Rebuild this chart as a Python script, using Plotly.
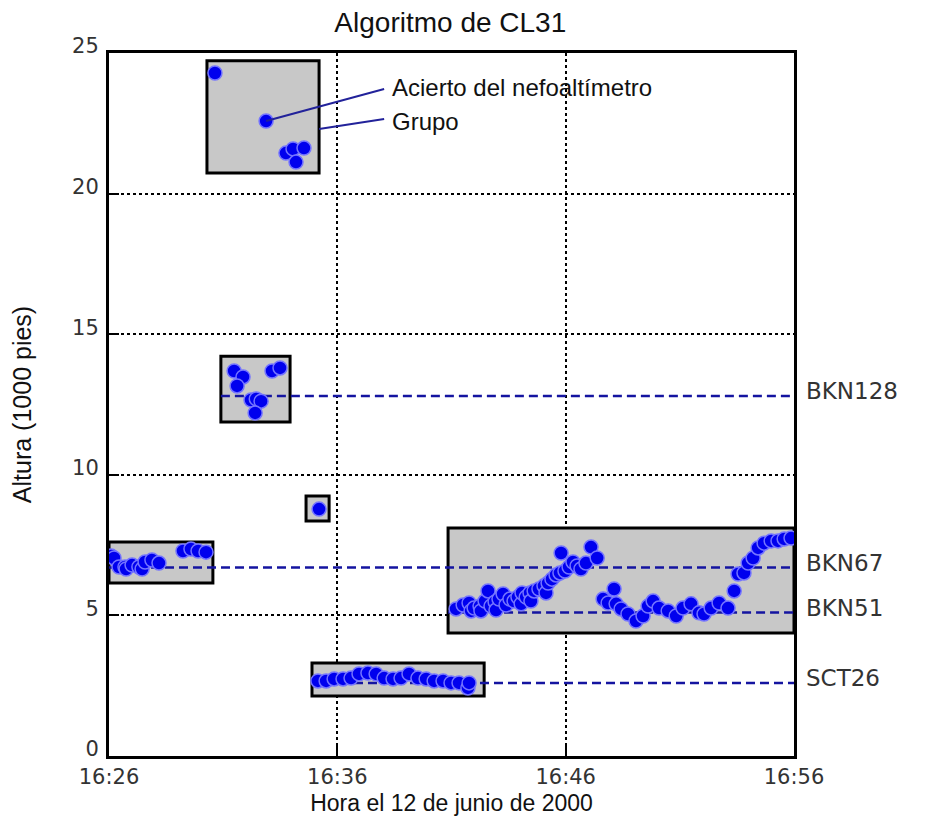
import pandas as pd
import plotly.graph_objects as go

# ---------------- data (minutes after 16:26, heights in 1000 ft) ----------------
BASE = pd.Timestamp("2000-06-12 16:26:00")

# cluster at ~21-24 kft
t_alto = [4.64, 6.88, 7.75, 8.06, 8.54, 8.19]
h_alto = [24.29, 22.58, 21.44, 21.59, 21.62, 21.12]

# cluster at ~12-14 kft
t_medio = [5.48, 5.87, 5.61, 6.22, 6.45, 6.66, 6.40, 7.14, 7.49]
h_medio = [13.69, 13.48, 13.16, 12.66, 12.70, 12.62, 12.20, 13.69, 13.80]

# single hit at ~8.8 kft
t_aislado = [9.20]
h_aislado = [8.78]

# cluster at ~7 kft (left)
t_izq = [0.09, 0.22, 0.44, 0.70, 0.75, 1.01, 1.31, 1.45, 1.58, 1.88, 2.19, 3.24, 3.59, 3.90, 4.25]
h_izq = [7.11, 7.04, 6.72, 6.72, 6.65, 6.79, 6.72, 6.65, 6.90, 6.97, 6.86, 7.29, 7.36, 7.29, 7.25]

# large cluster 5-8 kft (right)
t_der = [15.20, 15.51, 15.77, 15.86, 15.99, 16.25, 16.29, 16.47, 16.60, 16.73, 16.91, 16.95,
         17.08, 17.26, 17.39, 17.56, 17.74, 17.91, 18.05, 18.09, 18.27, 18.44, 18.48, 18.62,
         18.83, 19.05, 19.14, 19.23, 19.40, 19.58, 19.75, 19.80, 19.97, 20.15, 20.32, 20.50,
         20.67, 20.89, 21.11, 21.38, 21.64, 21.86, 22.12, 22.21, 22.43, 22.73, 23.08, 23.39,
         23.61, 23.83, 24.09, 24.49, 24.84, 25.14, 25.49, 25.84, 26.06, 26.37, 26.72, 27.11,
         27.38, 27.55, 27.81, 27.99, 28.21, 28.43, 28.69, 29.00, 29.30, 29.57, 29.87]
h_der = [5.23, 5.37, 5.44, 5.16, 5.26, 5.33, 5.16, 5.51, 5.87, 5.33, 5.48, 5.19,
         5.58, 5.76, 5.37, 5.58, 5.51, 5.65, 5.41, 5.80, 5.65, 5.80, 5.51, 5.87,
         5.94, 6.05, 5.80, 6.15, 6.29, 6.44, 6.51, 7.22, 6.58, 6.72, 6.90, 6.76,
         6.65, 6.86, 7.43, 7.04, 5.58, 5.44, 5.94, 5.41, 5.23, 5.05, 4.80, 4.98,
         5.33, 5.51, 5.26, 5.16, 4.98, 5.26, 5.41, 5.09, 5.05, 5.26, 5.44, 5.26,
         5.87, 6.47, 6.51, 6.86, 7.04, 7.40, 7.57, 7.65, 7.65, 7.72, 7.75]

# cluster at ~2.7 kft
t_bajo = [9.15, 9.51, 9.86, 10.25, 10.60, 10.95, 11.34, 11.70, 12.05, 12.44, 12.79, 13.14,
          13.53, 13.89, 14.24, 14.63, 14.98, 15.33, 15.72, 15.77]
h_bajo = [2.67, 2.67, 2.74, 2.74, 2.77, 2.92, 2.95, 2.92, 2.77, 2.74, 2.77, 2.92,
          2.77, 2.74, 2.67, 2.67, 2.60, 2.60, 2.42, 2.60]

# group boxes ("Grupo")
box_t0 = [4.29, 4.90, 8.63, 0.00, 14.85, 8.89]
box_t1 = [9.20, 7.93, 9.64, 4.55, 30.00, 16.43]
box_h0 = [20.73, 11.88, 8.36, 6.15, 4.37, 2.13]
box_h1 = [24.72, 14.22, 9.25, 7.61, 8.11, 3.31]

# reported cloud layers
capa_nombre = ["BKN128", "BKN67", "BKN51", "SCT26"]
capa_altura = [12.8, 6.7, 5.1, 2.6]
capa_inicio = [4.90, 0.00, 14.85, 8.89]
FIN = 30.0

x_ticks = [0, 10, 20, 30]
y_ticks = [0, 5, 10, 15, 20, 25]

# callouts: (from point) -> (text anchor)
callout_text = ["Acierto del nefoaltímetro", "Grupo"]
callout_t0 = [6.88, 9.20]
callout_h0 = [22.58, 22.30]
callout_t1 = [12.05, 12.05]
callout_h1 = [23.72, 22.65]
callout_text_t = [12.30, 12.30]
callout_text_h = [23.78, 22.58]


def tt(m):
    """minutes after 16:26 -> date string"""
    ts = BASE + pd.to_timedelta(m, unit="m")
    return ts.strftime("%Y-%m-%d %H:%M:%S.%f")


def tl(ms):
    return [tt(m) for m in ms]


fig = go.Figure()

# boxes
for a, b, c, d in zip(box_t0, box_t1, box_h0, box_h1):
    fig.add_shape(type="rect", xref="x", yref="y", x0=tt(a), x1=tt(b), y0=c, y1=d,
                  fillcolor="#c8c8c8", line=dict(color="black", width=3), layer="between")

# layer dashed lines
for nm, h, s in zip(capa_nombre, capa_altura, capa_inicio):
    fig.add_trace(go.Scatter(x=[tt(s), tt(FIN)], y=[h, h], mode="lines",
                             line=dict(color="#1414a0", width=2.5, dash="9px,5px"),
                             hoverinfo="skip", showlegend=False))
    fig.add_annotation(x=tt(FIN), y=h, xref="x", yref="y", text=nm, showarrow=False,
                       xanchor="left", yanchor="middle", xshift=10, yshift=5,
                       font=dict(family="DejaVu Sans", size=23, color="#333333"))

marker = dict(color="#0000ee", size=14, line=dict(color="#7474ff", width=1.5))
for ts, hs in [(t_alto, h_alto), (t_medio, h_medio), (t_aislado, h_aislado),
               (t_izq, h_izq), (t_der, h_der), (t_bajo, h_bajo)]:
    fig.add_trace(go.Scatter(x=tl(ts), y=hs, mode="markers", marker=marker,
                             showlegend=False))

# callouts
for txt, a0, b0, a1, b1, ta, tb in zip(callout_text, callout_t0, callout_h0, callout_t1,
                                       callout_h1, callout_text_t, callout_text_h):
    fig.add_shape(type="line", xref="x", yref="y", x0=tt(a0), y0=b0, x1=tt(a1), y1=b1,
                  line=dict(color="#22229a", width=2), layer="above")
    fig.add_annotation(x=tt(ta), y=tb, xref="x", yref="y", text=txt, showarrow=False,
                       xanchor="left", yanchor="middle",
                       font=dict(family="Liberation Sans", size=24, color="#111111"))

fig.update_layout(
    width=912, height=809,
    margin=dict(l=101, r=126, t=45, b=61, autoexpand=False),
    paper_bgcolor="white", plot_bgcolor="white",
    title=dict(text="Algoritmo de CL31", x=0.485, xanchor="center", y=0.982, yanchor="middle",
               font=dict(family="Liberation Sans", size=28, color="#111111")),
    showlegend=False,
)

fig.update_xaxes(
    type="date", range=[tt(0), tt(30)], automargin=False,
    tickvals=tl(x_ticks), tickformat="%H:%M",
    showline=True, linecolor="black", linewidth=3, mirror=True,
    ticks="inside", ticklen=10, tickwidth=2, tickcolor="black",
    showgrid=True, gridcolor="black", gridwidth=2, griddash="dot",
    tickfont=dict(family="DejaVu Sans", size=21, color="#333333"),
    title=dict(text="Hora el 12 de junio de 2000", standoff=7,
               font=dict(family="Liberation Sans", size=23, color="#111111")),
    zeroline=False,
)
fig.update_yaxes(
    range=[0, 25], tickvals=y_ticks, ticklabelshift=-7, ticklabelstandoff=3, automargin=False,
    showline=True, linecolor="black", linewidth=3, mirror=True,
    ticks="inside", ticklen=10, tickwidth=2, tickcolor="black",
    showgrid=True, gridcolor="black", gridwidth=2, griddash="dot",
    tickfont=dict(family="DejaVu Sans", size=21, color="#333333"),
    title=dict(text="Altura (1000 pies)", standoff=38,
               font=dict(family="Liberation Sans", size=25, color="#111111")),
    zeroline=False,
)

fig.write_html("out.html")
